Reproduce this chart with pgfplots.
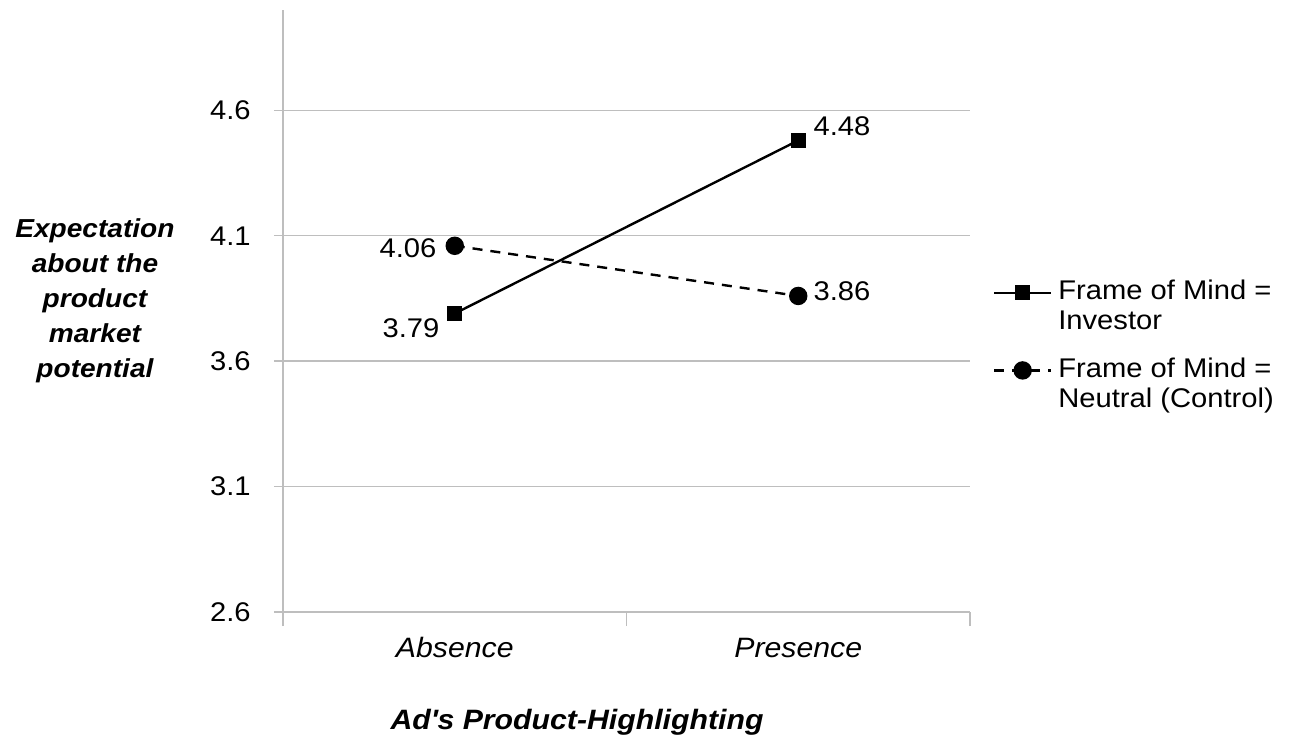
\documentclass[border=0pt]{standalone}
\usepackage{fontspec}
\setmainfont[FakeStretch=1.08]{Liberation Sans}
\usepackage{pgfplots}
\pgfplotsset{compat=1.18}
\definecolor{gridgray}{RGB}{190,190,190}

\begin{document}
\begin{tikzpicture}
\begin{axis}[
    name=ax,
    scale only axis, width=343.5pt, height=301pt,
    xmin=-0.5, xmax=1.5, ymin=2.6, ymax=5.0,
    axis x line*=bottom, axis y line*=left,
    axis line style={gridgray, line width=0.7pt, -},
    xtick={0,1}, xticklabels={Absence, Presence},
    minor xtick={-0.5,0.5,1.5},
    ytick={2.6,3.1,3.6,4.1,4.6},
    tick align=outside,
    major tick length=4.5pt, minor tick length=7pt,
    major x tick style={draw=none},
    minor x tick style={gridgray, line width=0.7pt},
    ytick style={gridgray, line width=0.7pt},
    ymajorgrids, major grid style={gridgray, line width=0.7pt},
    /pgf/number format/assume math mode=true,
    every tick label/.append style={font=\fontsize{13.5}{16}\selectfont},
    yticklabel style={inner sep=0pt, xshift=-11.5pt,
        /pgf/number format/.cd, fixed, fixed zerofill, precision=1},
    xticklabel style={font=\fontsize{14}{16}\selectfont\itshape,
        anchor=base, inner sep=0pt, yshift=-18pt},
    ylabel={Expectation\\about the\\product\\market\\potential},
    ylabel style={rotate=-90, align=center, inner sep=0pt,
        font=\fontsize{13}{17.5}\selectfont\bfseries\itshape,
        at={(axis description cs:-0.2737,0.5166)}, anchor=center},
    xlabel={Ad\textquotesingle s Product-Highlighting},
    xlabel style={font=\fontsize{14}{16}\selectfont\bfseries\itshape,
        at={(axis description cs:0.428,-0.1827)}, anchor=center, inner sep=0pt},
    legend cell align=left,
    legend style={at={(axis description cs:1.0335,0.551)}, anchor=north west,
        draw=none, fill=none, inner sep=0pt, outer sep=0pt, row sep=27.5pt,
        cells={anchor=base west},
        nodes={inner xsep=3pt, inner ysep=0pt},
        font=\fontsize{13.5}{15}\selectfont},
    legend image code/.code={
        \draw[mark repeat=2, mark phase=2, #1]
            plot coordinates {(0cm,3.5pt) (0.5cm,3.5pt) (1cm,3.5pt)};
    },
]
% Frame of Mind = Investor
\addplot[black, line width=1.2pt, mark=square*, mark size=3.2pt, mark options={solid}]
    coordinates {(0,3.79) (1,4.48)};
% Frame of Mind = Neutral (Control)
\addplot[black, line width=1.2pt, dash pattern=on 5pt off 4pt, mark=*, mark size=4pt, mark options={solid}]
    coordinates {(0,4.06) (1,3.86)};
\legend{\parbox[t]{130pt}{Frame of Mind =\\Investor}, \parbox[t]{130pt}{Frame of Mind =\\Neutral (Control)}}

\begin{scope}[every node/.style={inner sep=0pt, font=\fontsize{13.5}{16}\selectfont}]
\node[anchor=east, xshift=-7.5pt, yshift=-7.5pt] at (axis cs:0,3.79) {3.79};
\node[anchor=west, xshift=7.5pt, yshift=7pt] at (axis cs:1,4.48) {4.48};
\node[anchor=east, xshift=-9pt, yshift=-1pt] at (axis cs:0,4.06) {4.06};
\node[anchor=west, xshift=7.5pt, yshift=2.5pt] at (axis cs:1,3.86) {3.86};
\end{scope}
\end{axis}
\pgfresetboundingbox
\path[use as bounding box] ([shift={(-141.5pt,-66.5pt)}]ax.south west)
    rectangle ([shift={(506.5pt,306pt)}]ax.south west);
\end{tikzpicture}
\end{document}
